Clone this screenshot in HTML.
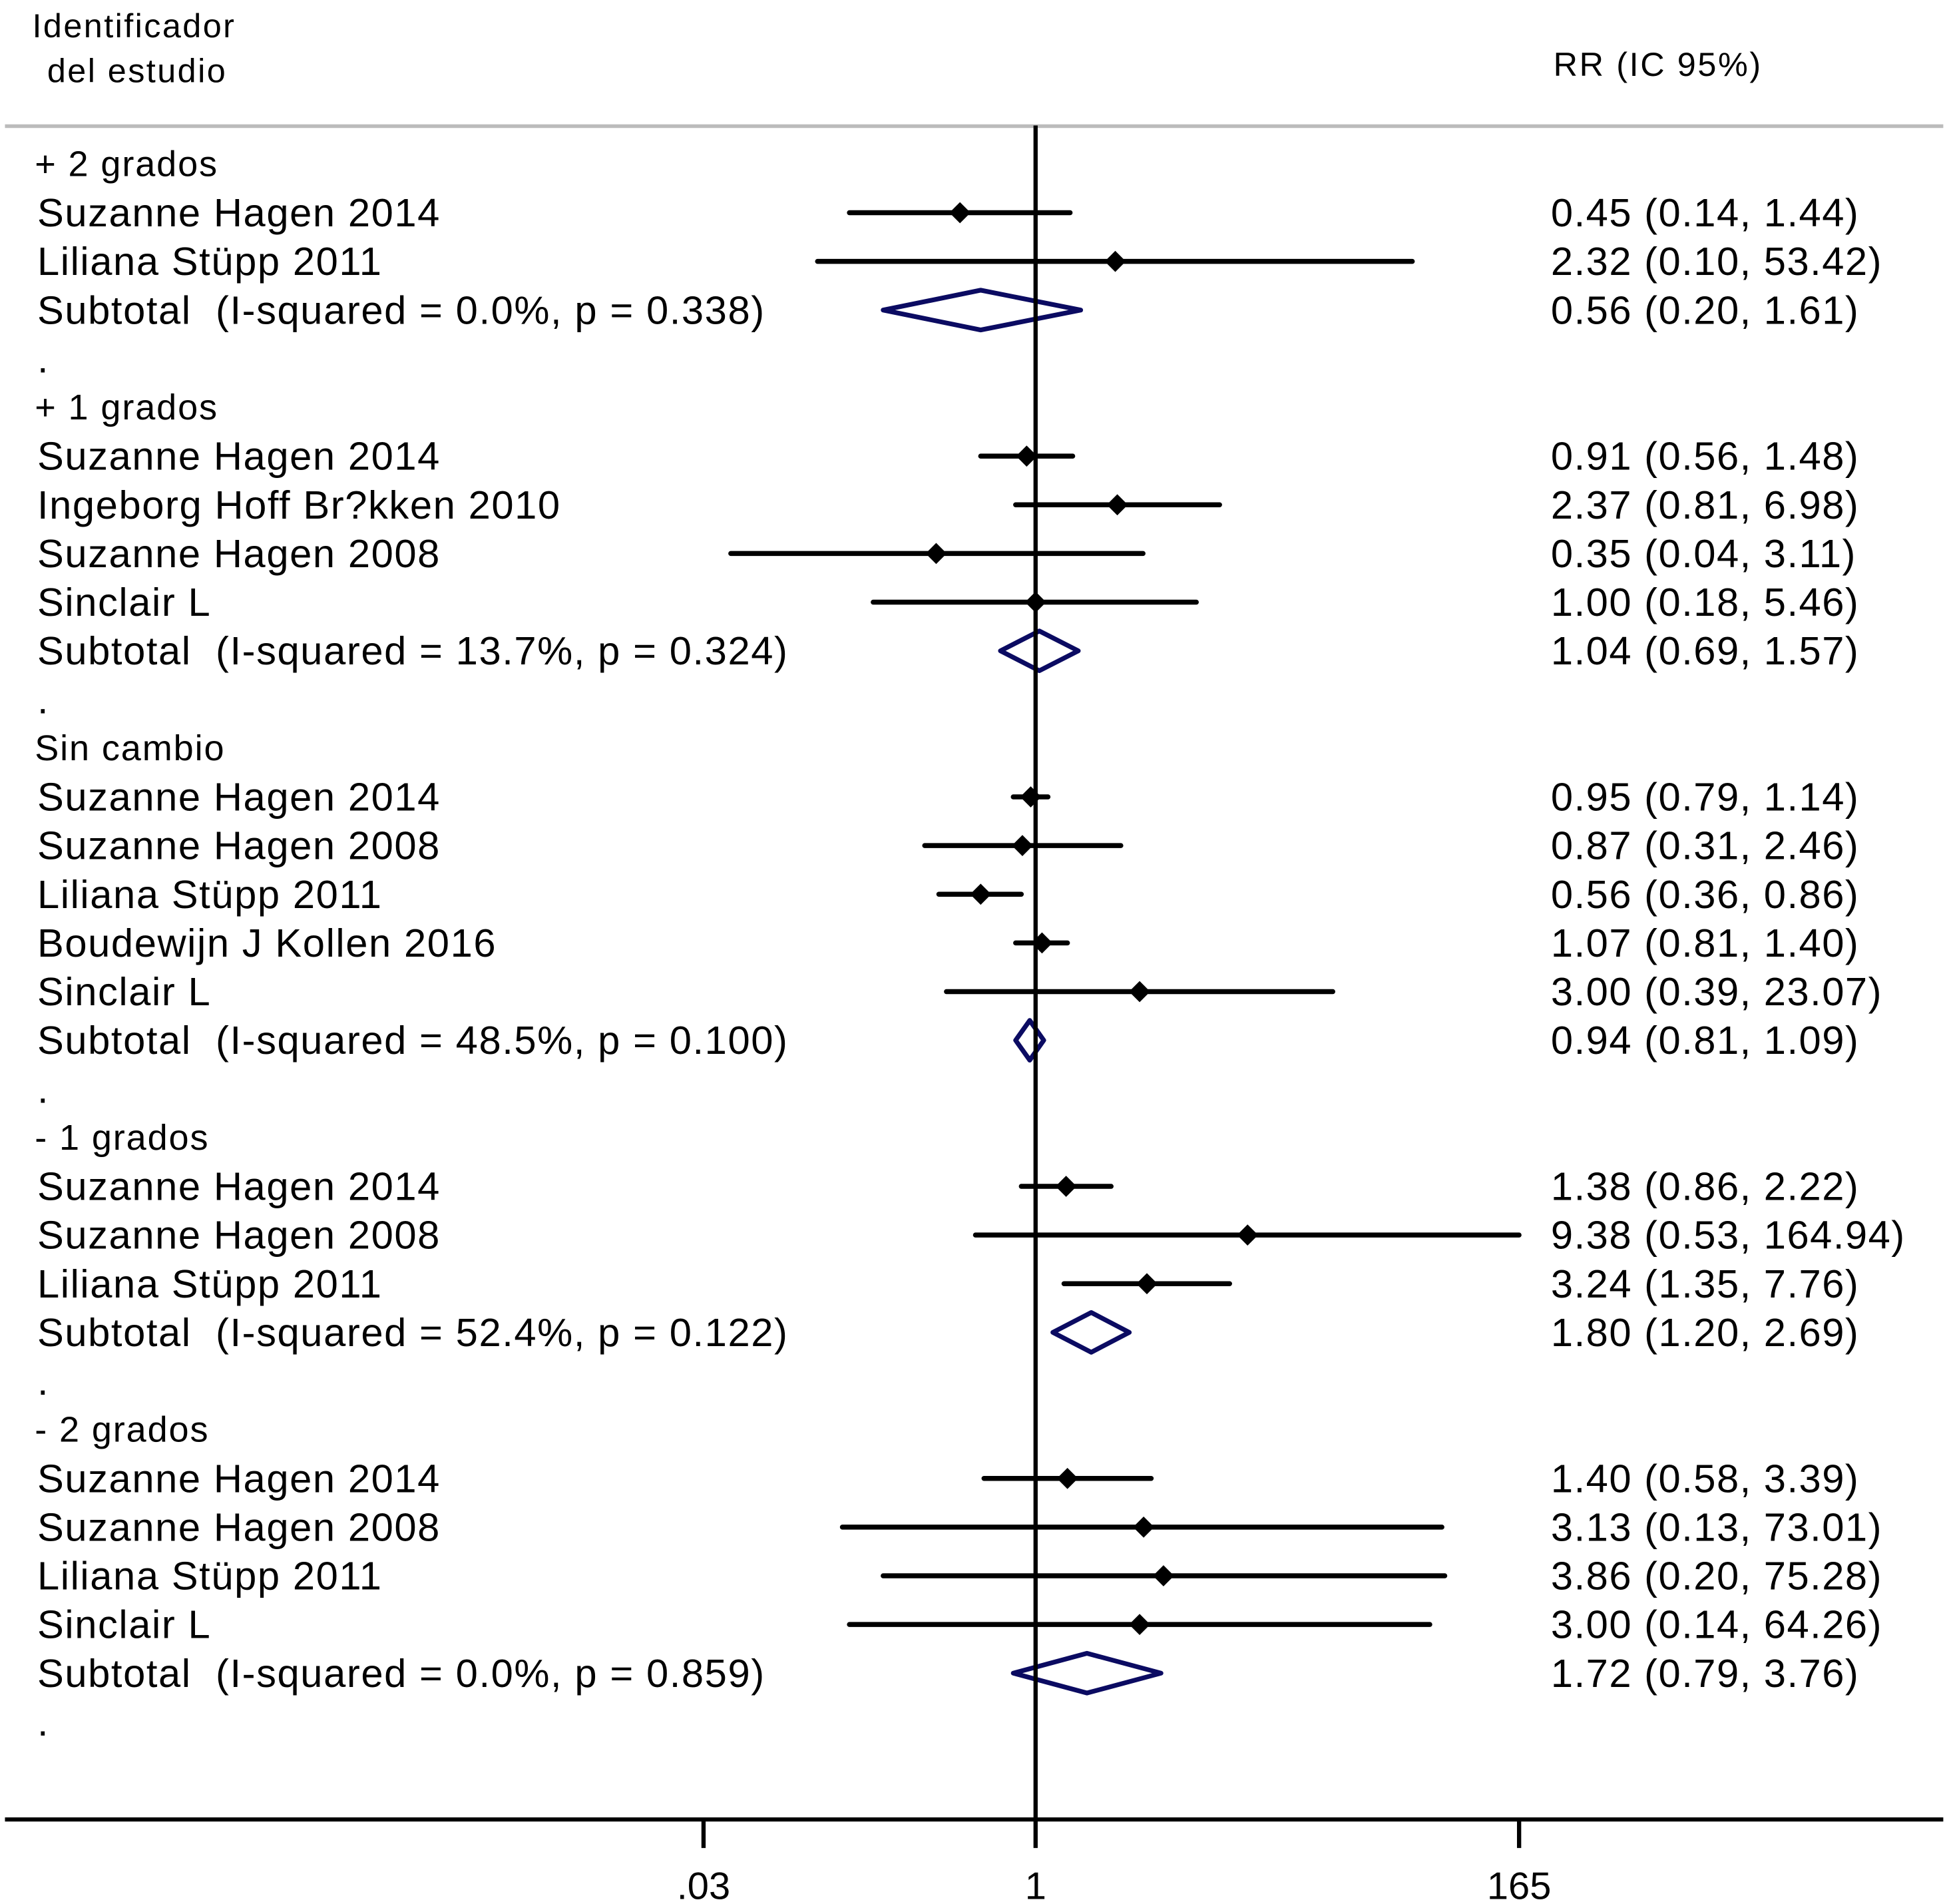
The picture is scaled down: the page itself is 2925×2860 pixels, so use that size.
<!DOCTYPE html>
<html><head><meta charset="utf-8"><style>
html,body{margin:0;padding:0;background:#fff;}
svg{display:block;}
text{font-family:"Liberation Sans",Arial,sans-serif;fill:#000;white-space:pre;}
</style></head><body>
<svg id="chart" width="2925" height="2860" viewBox="0 0 1568 1533" xmlns="http://www.w3.org/2000/svg" xml:space="preserve">
<g>
<text x="26" y="30" font-size="27" letter-spacing="1.3">Identificador</text>
<text x="38" y="66" font-size="27" letter-spacing="1.3">del estudio</text>
<text x="1251" y="61" font-size="27" letter-spacing="1.4">RR (IC 95%)</text>
</g>
<line x1="4" y1="101.5" x2="1565" y2="101.5" stroke="#bbb" stroke-width="3"/>
<g id="rows"></g>
<g id="axis"></g>
</svg>
<script>
const labels = ["+ 2 grados","Suzanne Hagen 2014","Liliana Stüpp 2011","Subtotal  (I-squared = 0.0%, p = 0.338)",".",
"+ 1 grados","Suzanne Hagen 2014","Ingeborg Hoff Br?kken 2010","Suzanne Hagen 2008","Sinclair L","Subtotal  (I-squared = 13.7%, p = 0.324)",".",
"Sin cambio","Suzanne Hagen 2014","Suzanne Hagen 2008","Liliana Stüpp 2011","Boudewijn J Kollen 2016","Sinclair L","Subtotal  (I-squared = 48.5%, p = 0.100)",".",
"- 1 grados","Suzanne Hagen 2014","Suzanne Hagen 2008","Liliana Stüpp 2011","Subtotal  (I-squared = 52.4%, p = 0.122)",".",
"- 2 grados","Suzanne Hagen 2014","Suzanne Hagen 2008","Liliana Stüpp 2011","Sinclair L","Subtotal  (I-squared = 0.0%, p = 0.859)","."];
const kinds = ["h","s","s","t","d","h","s","s","s","s","t","d","h","s","s","s","s","s","t","d","h","s","s","s","t","d","h","s","s","s","s","t","d"];
const rr = [null,0.45,2.32,0.56,null,null,0.91,2.37,0.35,1.00,1.04,null,null,0.95,0.87,0.56,1.07,3.00,0.94,null,null,1.38,9.38,3.24,1.80,null,null,1.40,3.13,3.86,3.00,1.72,null];
const lo = [null,0.14,0.10,0.20,null,null,0.56,0.81,0.04,0.18,0.69,null,null,0.79,0.31,0.36,0.81,0.39,0.81,null,null,0.86,0.53,1.35,1.20,null,null,0.58,0.13,0.20,0.14,0.79,null];
const hi = [null,1.44,53.42,1.61,null,null,1.48,6.98,3.11,5.46,1.57,null,null,1.14,2.46,0.86,1.40,23.07,1.09,null,null,2.22,164.94,7.76,2.69,null,null,3.39,73.01,75.28,64.26,3.76,null];
const tickVals = [0.03,1,165];
const tickLabels = [".03","1","165"];

const NS="http://www.w3.org/2000/svg";
const x = v => 834 + 175.6*Math.log10(v);
const yRow = i => 132 + 39.2*i;
const fmt = v => v.toFixed(2);
function mk(tag, attrs, parent){const e=document.createElementNS(NS,tag);for(const k in attrs)e.setAttribute(k,attrs[k]);parent.appendChild(e);return e;}
const rows=document.getElementById('rows');
labels.forEach((lab,i)=>{
  const y=yRow(i), k=kinds[i];
  const t=mk('text',{x:k==="h"?28:30,y:y,'dominant-baseline':'central','font-size':k==="h"?29:32,'letter-spacing':k==="h"?1.0:0.85},rows);
  
  
  t.textContent=lab;
  if(rr[i]!==null){
    const v=mk('text',{x:1249,y:y,'dominant-baseline':'central','font-size':32,'letter-spacing':0.8},rows);
    
    
    v.textContent=fmt(rr[i])+" ("+fmt(lo[i])+", "+fmt(hi[i])+")";
    const cx=x(rr[i]), xl=x(lo[i]), xh=x(hi[i]);
    if(k==="s"){
      const l=mk('line',{x1:xl,y1:y,x2:xh,y2:y,stroke:'#000','stroke-width':4,'stroke-linecap':'round'},rows);
      
      
      const p=mk('polygon',{points:`${cx-8.5},${y} ${cx},${y-8.5} ${cx+8.5},${y} ${cx},${y+8.5}`,fill:'#000'},rows);
      
      
    } else {
      const p=mk('polygon',{points:`${xl},${y} ${cx},${y-16} ${xh},${y} ${cx},${y+16}`,fill:'none',stroke:'#0b0b62','stroke-width':3.8,'stroke-linejoin':'round'},rows);
      
      
    }
  }
});
const ax=document.getElementById('axis');
const nl=mk('line',{x1:834,y1:101,x2:834,y2:1465,stroke:'#000','stroke-width':3.4},ax);


const bl=mk('line',{x1:4,y1:1465,x2:1565,y2:1465,stroke:'#000','stroke-width':3.4},ax);


tickVals.forEach((v,i)=>{
  const tk=mk('line',{x1:x(v),y1:1465,x2:x(v),y2:1488,stroke:'#000','stroke-width':3.4},ax);
  
  
  const tl=mk('text',{x:x(v),y:1529,'text-anchor':'middle','font-size':31},ax);
  
  
  tl.textContent=tickLabels[i];
});
</script>
</body></html>
